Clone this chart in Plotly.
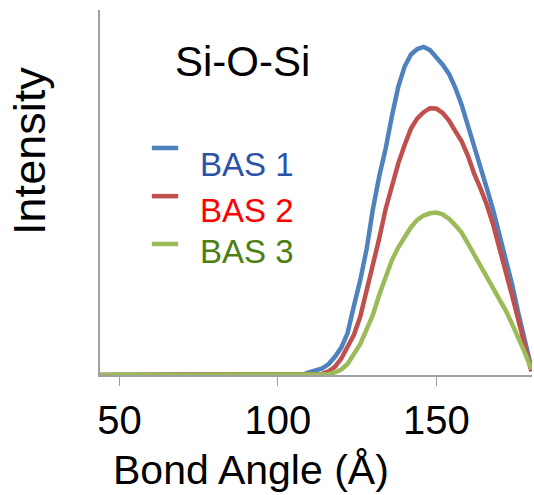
import plotly.graph_objects as go

# Bond-angle distributions (Si-O-Si), intensity in relative units
angle = [44, 106, 108, 110, 112, 114, 116, 118, 120, 122, 124, 126, 128, 130,
         132, 134, 136, 138, 140, 142, 144, 146, 148, 150, 152, 154, 156, 158,
         160, 162, 164, 166, 168, 170, 172, 174, 176, 178, 180]

bas1 = [0.0, 0.0, 0.002, 0.008, 0.012, 0.018, 0.03, 0.05, 0.075, 0.115, 0.19,
        0.26, 0.345, 0.455, 0.545, 0.62, 0.71, 0.79, 0.845, 0.878, 0.893, 0.899,
        0.89, 0.872, 0.85, 0.825, 0.787, 0.74, 0.685, 0.63, 0.575, 0.51, 0.45,
        0.385, 0.318, 0.245, 0.165, 0.095, 0.02]

bas2 = [0.0, 0.0, 0.0, 0.0, 0.0, 0.003, 0.01, 0.022, 0.045, 0.075, 0.11,
        0.16, 0.228, 0.30, 0.375, 0.455, 0.52, 0.58, 0.63, 0.675, 0.703, 0.72,
        0.731, 0.73, 0.718, 0.697, 0.668, 0.64, 0.6, 0.55, 0.51, 0.465, 0.41,
        0.34, 0.28, 0.215, 0.15, 0.085, 0.01]

bas3 = [0.0, 0.0, 0.0, 0.0, 0.0, 0.0, 0.002, 0.007, 0.015, 0.03, 0.055,
        0.085, 0.125, 0.165, 0.22, 0.27, 0.315, 0.35, 0.38, 0.405, 0.425, 0.437,
        0.443, 0.445, 0.44, 0.428, 0.41, 0.39, 0.36, 0.33, 0.3, 0.265, 0.237,
        0.207, 0.175, 0.138, 0.1, 0.06, 0.015]

series_names = ["BAS 1", "BAS 2", "BAS 3"]
line_colors = ["#4F81BD", "#C0504D", "#9BBB59"]
text_colors = ["#2A52A8", "#FF0000", "#4C7F12"]
tick_vals = [50, 100, 150]

FONT = "Liberation Sans, Arial, sans-serif"

fig = go.Figure()
for name, ys, col in zip(series_names, [bas1, bas2, bas3], line_colors):
    fig.add_trace(go.Scatter(x=angle, y=ys, mode="lines", name=name,
                             line=dict(color=col, width=4.5),
                             showlegend=False))

# Hand-placed legend: short coloured dash plus coloured label
legend_line_y = [0.622, 0.490, 0.359]
legend_text_y = [0.578, 0.452, 0.337]
for name, lc, tc, ly, ty in zip(series_names, line_colors, text_colors,
                                legend_line_y, legend_text_y):
    fig.add_shape(type="line", xref="paper", yref="paper",
                  x0=0.120, x1=0.181, y0=ly, y1=ly,
                  line=dict(color=lc, width=4.5))
    fig.add_annotation(text=name, xref="paper", yref="paper",
                       x=0.228, y=ty, xanchor="left", yanchor="middle",
                       showarrow=False, font=dict(family=FONT, size=33, color=tc))

fig.add_annotation(text="Si-O-Si", xref="paper", yref="paper",
                   x=0.329, y=0.858, xanchor="center", yanchor="middle",
                   showarrow=False, font=dict(family=FONT, size=42, color="#000000"))

fig.add_annotation(text="Bond Angle (Å)", xref="paper", yref="paper",
                   x=0.3495, y=-0.26, xanchor="center", yanchor="middle",
                   showarrow=False, font=dict(family=FONT, size=41, color="#000000"))

fig.add_annotation(text="Intensity", xref="paper", yref="paper",
                   x=-0.162, y=0.614, xanchor="center", yanchor="middle",
                   textangle=-90, showarrow=False,
                   font=dict(family=FONT, size=45, color="#000000"))

fig.update_xaxes(range=[43.85, 180.2], tickvals=tick_vals,
                 ticks="outside", ticklen=9, tickwidth=1.2, tickcolor="#A0A0A0",
                 showline=True, linecolor="#A0A0A0", linewidth=1.5,
                 showgrid=False, zeroline=False,
                 tickfont=dict(family=FONT, size=40, color="#000000"))
fig.update_yaxes(range=[0, 1], showline=True, linecolor="#A0A0A0", linewidth=1.5,
                 showticklabels=False, ticks="", showgrid=False, zeroline=False)

fig.update_layout(width=534, height=495,
                  margin=dict(l=100, r=2, t=10, b=120),
                  paper_bgcolor="white", plot_bgcolor="white")

fig.write_html("out.html")
